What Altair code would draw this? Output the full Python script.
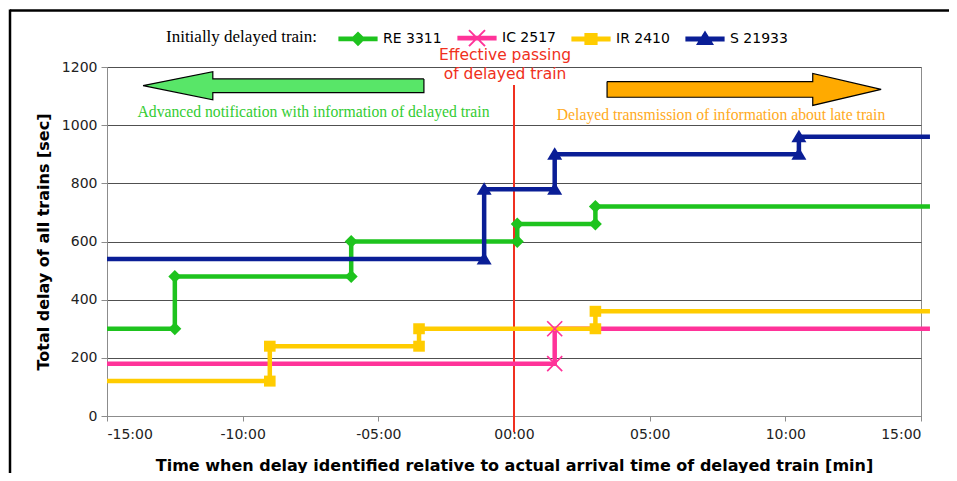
import altair as alt
import pandas as pd

# ---------------- data ----------------
series = ["RE 3311", "IC 2517", "IR 2410", "S 21933"]
colors = ["#1ec31e", "#ff3399", "#ffcc00", "#0a1e96"]

# step series: time [min] where the level starts, total delay [sec]
re_t = [-15, -12.5, -6, 0.12, 3, 15.33]
re_v = [300, 480, 600, 660, 720, 720]
ic_t = [-15, 1.5, 15.33]
ic_v = [180, 300, 300]
ir_t = [-15, -9, -3.5, 3, 15.33]
ir_v = [120, 240, 300, 360, 360]
s_t = [-15, -1.1, 1.5, 10.5, 15.33]
s_v = [540, 780, 900, 960, 960]

x_ticks = [-15, -10, -5, 0, 5, 10, 15]
x_tick_labels = ["-15:00", "-10:00", "-05:00", "00:00", "05:00", "10:00", "15:00"]
y_ticks = [0, 200, 400, 600, 800, 1000, 1200]

# annotation arrows (polygon outlines in data units)
green_arrow_t = [-3.32, -11.1, -11.1, -13.67, -11.1, -11.1, -3.32, -3.32]
green_arrow_v = [1159, 1159, 1184, 1136, 1087, 1112, 1112, 1159]
orange_arrow_t = [3.43, 11.01, 11.01, 13.53, 11.01, 11.01, 3.43, 3.43]
orange_arrow_v = [1150, 1150, 1178, 1123, 1068, 1096, 1096, 1150]

note_text = ["Advanced notification with information of delayed train",
             "Delayed transmission of information about late train"]
note_t = [-7.39, 7.63]
note_v = [1045, 1035]
note_colors = ["#33cc33", "#ffaa22"]

pass_text = ["Effective passing", "of delayed train"]
pass_t = [-0.33, -0.33]
pass_v = [1242, 1176]
pass_line_t = [0]
pass_line_top = [1138]
pass_line_bottom = [-55]

# ---------------- marker shapes ----------------
def xpath(a, tp):
    return (f"M{-a+tp},{-a-tp} L{a+tp},{a-tp} L{a-tp},{a+tp} L{-a-tp},{-a+tp} Z "
            f"M{-a-tp},{a-tp} L{a-tp},{-a-tp} L{a+tp},{-a+tp} L{-a+tp},{a+tp} Z")

# chart markers: 1 unit = 10 px (size 400)
mk_paths = [
    "M0,-0.65 L0.65,0 L0,0.65 L-0.65,0 Z",
    xpath(0.75, 0.06),
    "M-0.58,-0.55 L0.58,-0.55 L0.58,0.55 L-0.58,0.55 Z",
    "M0,-0.7 L0.75,0.55 L-0.75,0.55 Z",
]
# legend glyphs: 1 unit = 10 px (size 400), line segment + marker
bar = "M-1.96,-0.24 L1.96,-0.24 L1.96,0.24 L-1.96,0.24 Z "
lg_paths = [
    bar + "M0,-0.74 L0.74,0 L0,0.74 L-0.74,0 Z",
    bar + xpath(0.8, 0.07),
    bar + "M-0.66,-0.6 L0.66,-0.6 L0.66,0.6 L-0.66,0.6 Z",
    bar + "M0,-0.84 L0.9,0.6 L-0.9,0.6 Z",
]

# ---------------- tables ----------------
line_rows, mk_rows = [], []
for name, ts, vs in zip(series, [re_t, ic_t, ir_t, s_t], [re_v, ic_v, ir_v, s_v]):
    for i, (t, v) in enumerate(zip(ts, vs)):
        line_rows.append({"series": name, "t": t, "v": v, "i": i})
    for i in range(1, len(ts) - 1):
        mk_rows.append({"series": name, "t": ts[i], "v": vs[i - 1]})
        mk_rows.append({"series": name, "t": ts[i], "v": vs[i]})
lines_df = pd.DataFrame(line_rows)
mk_df = pd.DataFrame(mk_rows)

green_df = pd.DataFrame({"t": green_arrow_t, "v": green_arrow_v, "i": range(len(green_arrow_t))})
orange_df = pd.DataFrame({"t": orange_arrow_t, "v": orange_arrow_v, "i": range(len(orange_arrow_t))})
notes_df = pd.DataFrame({"text": note_text, "t": note_t, "v": note_v, "c": note_colors})
pass_df = pd.DataFrame({"text": pass_text, "t": pass_t, "v": pass_v})
pline_df = pd.DataFrame({"t": pass_line_t, "v": pass_line_top, "v2": pass_line_bottom})

# ---------------- encodings ----------------
label_expr = "[" + ",".join(f"'{s}'" for s in x_tick_labels) + "][round((datum.value + 15) / 5)]"
X = alt.X("t:Q", scale=alt.Scale(domain=[-15, 15], nice=False, zero=False),
          axis=alt.Axis(values=x_ticks, labelExpr=label_expr, grid=False,
                        title="Time when delay identified relative to actual arrival time of delayed train [min]",
                        tickSize=5, labelPadding=6, titlePadding=16))
Y = alt.Y("v:Q", scale=alt.Scale(domain=[0, 1200], nice=False),
          axis=alt.Axis(values=y_ticks, format="d", grid=True, gridColor="#505050", gridWidth=1,
                        title="Total delay of all trains [sec]", tickSize=6, labelPadding=4,
                        titlePadding=10))

color_scale = alt.Scale(domain=series, range=colors)
legend_props = dict(orient="none", legendX=59, legendY=-39, direction="horizontal",
                    title="Initially delayed train:", titleOrient="left",
                    titleFont="Liberation Serif", titleFontSize=17,
                    titleFontWeight="normal", titleColor="black", titlePadding=30,
                    labelFont="DejaVu Sans", labelFontSize=14, labelColor="black",
                    symbolSize=400, symbolStrokeWidth=0, columnPadding=15,
                    labelOffset=15, padding=0)

lines = alt.Chart(lines_df).mark_line(interpolate="step-after", strokeWidth=4.5).encode(
    x=X, y=Y,
    color=alt.Color("series:N", scale=color_scale, legend=alt.Legend(**legend_props)),
    order=alt.Order("i:Q"),
)
# legend symbols: line + marker glyph per train
legend_pts = alt.Chart(lines_df).mark_point(filled=True, opacity=0, size=400).encode(
    color=alt.Color("series:N", scale=color_scale, legend=alt.Legend(**legend_props)),
    shape=alt.Shape("series:N", scale=alt.Scale(domain=series, range=lg_paths),
                    legend=alt.Legend(**legend_props)),
    x=X, y=Y,
)
marker_layers = [
    alt.Chart(mk_df[mk_df.series == name]).mark_point(
        shape=path, filled=True, color=col, size=400, opacity=1).encode(x=X, y=Y)
    for name, path, col in zip(series, mk_paths, colors)
]
arrow_green = alt.Chart(green_df).mark_line(
    fill="#58e668", stroke="black", strokeWidth=1.2, strokeJoin="miter").encode(
    x=X, y=Y, order=alt.Order("i:Q"))
arrow_orange = alt.Chart(orange_df).mark_line(
    fill="#ffaa00", stroke="black", strokeWidth=1.2, strokeJoin="miter").encode(
    x=X, y=Y, order=alt.Order("i:Q"))
notes = alt.Chart(notes_df).mark_text(font="Liberation Serif", fontSize=15.7).encode(
    x=X, y=Y, text="text:N", color=alt.Color("c:N", scale=None))
pass_rule = alt.Chart(pline_df).mark_rule(color="#f03020", strokeWidth=2).encode(
    x=X, y=Y, y2="v2:Q")
pass_txt = alt.Chart(pass_df).mark_text(font="DejaVu Sans", fontSize=15.5, color="#f03020").encode(
    x=X, y=Y, text="text:N")

frame_top = alt.Chart(pline_df).mark_rule(color="black", strokeWidth=2.5).encode(
    x=alt.value(-97), x2=alt.value(842), y=alt.value(-56.5))
frame_left = alt.Chart(pline_df).mark_rule(color="black", strokeWidth=2.5).encode(
    x=alt.value(-97), y=alt.value(-57.5), y2=alt.value(406))

chart = alt.layer(
    pass_rule, arrow_green, arrow_orange, notes, pass_txt,
    lines, legend_pts, *marker_layers, frame_top, frame_left,
).properties(
    width=814, height=349,
    autosize=alt.AutoSizeParams(type="none"),
    padding={"left": 99, "top": 59, "right": 28, "bottom": 57},
).configure_view(stroke="#8c8c8c", strokeWidth=1).configure_axis(
    domainColor="#8c8c8c", tickColor="#8c8c8c", labelFont="DejaVu Sans", labelFontSize=14,
    labelColor="#222222", titleFont="DejaVu Sans", titleFontSize=16, titleFontWeight="bold",
    titleColor="black",
).configure_legend(symbolOpacity=1)

chart.save("out.html", embed_options={"renderer": "svg", "actions": False})
